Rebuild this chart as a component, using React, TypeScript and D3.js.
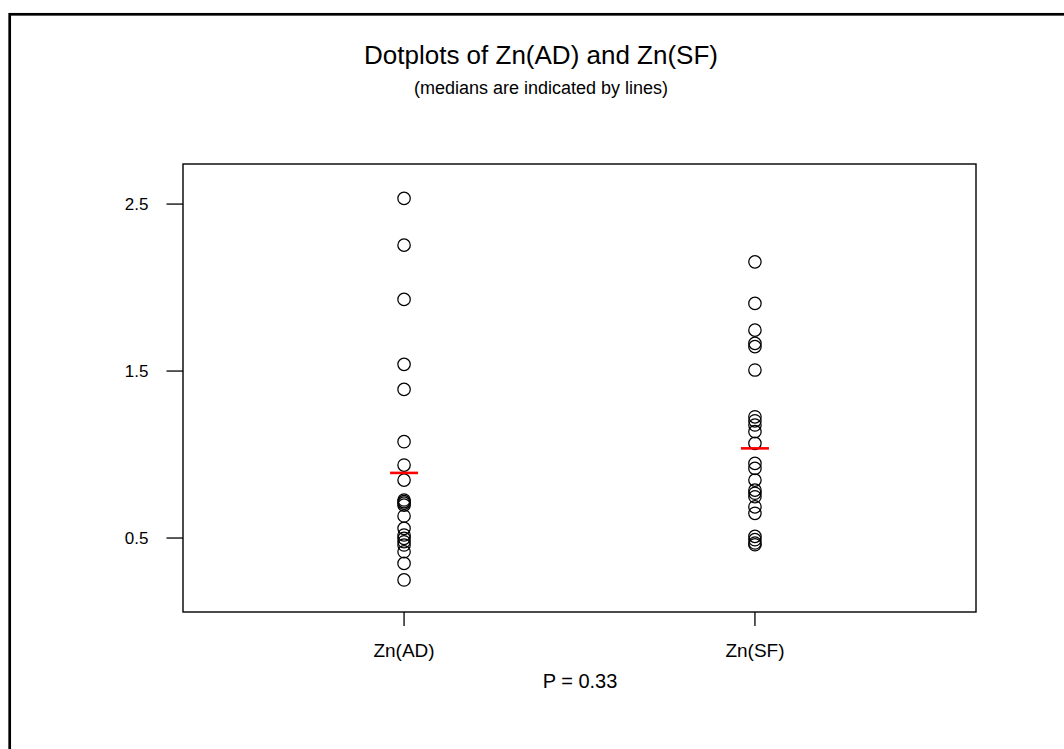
import React from "react";
import * as d3 from "d3";

// Zinc measurements for the two groups
const categories = ["Zn(AD)", "Zn(SF)"];
const znAD = [
  2.534, 2.254, 1.929, 1.54, 1.39, 1.077, 0.937, 0.847, 0.728, 0.718, 0.709,
  0.697, 0.632, 0.558, 0.518, 0.498, 0.478, 0.458, 0.418, 0.348, 0.249,
];
const znSF = [
  2.154, 1.905, 1.745, 1.666, 1.646, 1.506, 1.226, 1.202, 1.177, 1.137, 1.067,
  0.947, 0.917, 0.847, 0.787, 0.768, 0.747, 0.687, 0.648, 0.51, 0.49, 0.47,
  0.46,
];
const medians = [0.89, 1.037];
const yTicks = [0.5, 1.5, 2.5];
const title = "Dotplots of Zn(AD) and Zn(SF)";
const subtitle = "(medians are indicated by lines)";
const pLabel = "P = 0.33";

const W = 1064;
const H = 749;
const box = { left: 183, right: 976, top: 164, bottom: 612 };
const FONT = "Arial, 'Liberation Sans', Helvetica, sans-serif";

export default function App() {
  const x = d3.scaleLinear().domain([0.37, 2.63]).range([box.left, box.right]);
  const y = d3.scaleLinear().domain([0.057, 2.74]).range([box.bottom, box.top]);
  const groups = [znAD, znSF];
  const cx = (i: number) => x(i + 1);

  return (
    <svg
      width={W}
      height={H}
      style={{ position: "absolute", left: 0, top: 0, background: "#fff" }}
      fontFamily={FONT}
    >
      <rect x={0} y={0} width={W} height={H} fill="#fff" />
      {/* outer frame */}
      <rect x={9.7} y={14.3} width={W + 20} height={H + 20} fill="none" stroke="#000" strokeWidth={2.7} />

      <text x={541} y={64} textAnchor="middle" fontSize={26} fill="#000">
        {title}
      </text>
      <text x={541} y={94} textAnchor="middle" fontSize={18} fill="#000">
        {subtitle}
      </text>

      {/* plot box */}
      <rect
        x={box.left}
        y={box.top}
        width={box.right - box.left}
        height={box.bottom - box.top}
        fill="none"
        stroke="#000"
        strokeWidth={1.4}
      />

      {/* y axis */}
      {yTicks.map((t) => (
        <g key={t}>
          <line x1={box.left - 16.5} x2={box.left} y1={y(t)} y2={y(t)} stroke="#000" strokeWidth={1.3} />
          <text x={148.5} y={y(t) + 6} textAnchor="end" fontSize={17} fill="#000">
            {t.toFixed(1)}
          </text>
        </g>
      ))}

      {/* x axis */}
      {categories.map((c, i) => (
        <g key={c}>
          <line x1={cx(i)} x2={cx(i)} y1={box.bottom} y2={box.bottom + 14} stroke="#000" strokeWidth={1.3} />
          <text x={cx(i)} y={657} textAnchor="middle" fontSize={19} fill="#000">
            {c}
          </text>
        </g>
      ))}

      <text x={580} y={688} textAnchor="middle" fontSize={20} fill="#000">
        {pLabel}
      </text>

      {/* points */}
      {groups.map((vals, i) =>
        vals.map((v, j) => (
          <circle
            key={`${i}-${j}`}
            cx={cx(i)}
            cy={y(v)}
            r={6.2}
            fill="none"
            stroke="#000"
            strokeWidth={1.25}
          />
        ))
      )}

      {/* median lines */}
      {medians.map((m, i) => (
        <line
          key={`m${i}`}
          x1={cx(i) - 14}
          x2={cx(i) + 14}
          y1={y(m)}
          y2={y(m)}
          stroke="#ff0000"
          strokeWidth={2.6}
        />
      ))}
    </svg>
  );
}
